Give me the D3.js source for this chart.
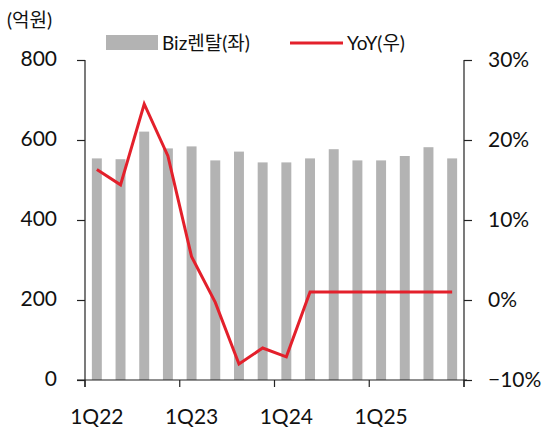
<!DOCTYPE html>
<html>
<head>
<meta charset="utf-8">
<script src="https://cdn.jsdelivr.net/npm/d3@7"></script>
<style>
  body { margin: 0; background: #fff; }
  svg text { font-family: Lato, "Noto Sans CJK KR", sans-serif; fill: #111; font-weight: 400; }
</style>
</head>
<body>
<div id="chart"></div>
<script>
// data
var quarters = ["1Q22","2Q22","3Q22","4Q22","1Q23","2Q23","3Q23","4Q23",
                "1Q24","2Q24","3Q24","4Q24","1Q25","2Q25","3Q25","4Q25"];
var rental = [554, 552, 621, 579, 584, 549, 571, 544, 544, 554, 577, 549, 549, 560, 582, 554];
var yoy = [16.3, 14.4, 24.5, 18.0, 5.4, -0.3, -8.0, -6.0, -7.1, 1.0, 1.0, 1.0, 1.0, 1.0, 1.0, 1.0];
var leftTicks = [0, 200, 400, 600, 800];
var rightTicks = [-10, 0, 10, 20, 30];
var yearLabels = ["1Q22", "1Q23", "1Q24", "1Q25"];

var W = 548, H = 430;
var plot = { left: 85, right: 464, top: 60, bottom: 380 };

var svg = d3.select("#chart").append("svg")
    .attr("width", W)
    .attr("height", H);

var x = d3.scaleBand()
    .domain(quarters)
    .range([plot.left, plot.right])
    .paddingInner(0.58)
    .paddingOuter(0.29);

// quarter index scale for the year tick marks
var xi = d3.scaleLinear().domain([0, quarters.length]).range([plot.left, plot.right]);

var yL = d3.scaleLinear().domain([0, 800]).range([plot.bottom, plot.top]);
var yR = d3.scaleLinear().domain([-10, 30]).range([plot.bottom, plot.top]);

// bars
svg.append("g").selectAll("rect")
    .data(rental)
    .enter()
    .append("rect")
    .attr("x", function (d, i) { return x(quarters[i]); })
    .attr("y", function (d) { return yL(d); })
    .attr("width", x.bandwidth())
    .attr("height", function (d) { return yL(0) - yL(d); })
    .attr("fill", "#b3b3b3");

// axes lines
var axisColor = "#222";
svg.append("line")
    .attr("x1", plot.left - 8).attr("x2", plot.right + 3)
    .attr("y1", plot.bottom).attr("y2", plot.bottom)
    .attr("stroke", axisColor).attr("stroke-width", 1.2);
svg.append("line")
    .attr("x1", plot.left).attr("x2", plot.left)
    .attr("y1", plot.top).attr("y2", plot.bottom + 7)
    .attr("stroke", axisColor).attr("stroke-width", 1.2);
svg.append("line")
    .attr("x1", plot.right).attr("x2", plot.right)
    .attr("y1", plot.top).attr("y2", plot.bottom + 7)
    .attr("stroke", axisColor).attr("stroke-width", 1.2);

// left axis
var gL = svg.append("g")
    .attr("transform", "translate(" + plot.left + ",0)")
    .call(d3.axisLeft(yL).tickValues(leftTicks).tickSize(8).tickSizeOuter(0).tickPadding(20));
gL.select(".domain").remove();
gL.selectAll(".tick line").attr("stroke", axisColor).attr("stroke-width", 1.2);
gL.selectAll(".tick text").style("font-size", "21px").attr("fill", "#111").attr("dy", "0.27em");

// right axis
var gR = svg.append("g")
    .attr("transform", "translate(" + plot.right + ",0)")
    .call(d3.axisRight(yR).tickValues(rightTicks).tickSize(8).tickSizeOuter(0).tickPadding(16)
        .tickFormat(function (d) { return (d < 0 ? "\u2212" + Math.abs(d) : d) + "%"; }));
gR.select(".domain").remove();
gR.selectAll(".tick line").attr("stroke", axisColor).attr("stroke-width", 1.2);
gR.selectAll(".tick text").style("font-size", "21px").attr("fill", "#111");

// year tick marks on x axis
svg.append("g").selectAll("line")
    .data([0, 4, 8, 12, 16])
    .enter()
    .append("line")
    .attr("x1", function (d) { return xi(d); })
    .attr("x2", function (d) { return xi(d); })
    .attr("y1", plot.bottom)
    .attr("y2", plot.bottom + 7)
    .attr("stroke", axisColor).attr("stroke-width", 1.2);

svg.append("g").selectAll("text")
    .data(yearLabels)
    .enter()
    .append("text")
    .attr("x", function (d) { return x(d) + x.bandwidth() / 2; })
    .attr("y", 415)
    .attr("text-anchor", "middle")
    .attr("dominant-baseline", "central")
    .style("font-size", "21px")
    .text(function (d) { return d; });

// yoy line
var line = d3.line()
    .x(function (d, i) { return x(quarters[i]) + x.bandwidth() / 2; })
    .y(function (d) { return yR(d); });

svg.append("path")
    .datum(yoy)
    .attr("d", line)
    .attr("fill", "none")
    .attr("stroke", "#e3202b")
    .attr("stroke-width", 3)
    .attr("stroke-linejoin", "miter");

// unit label
svg.append("text")
    .attr("x", 7).attr("y", 19)
    .attr("dominant-baseline", "central")
    .style("font-size", "19px")
    .text("(억원)");

// legend
var legend = svg.append("g");
legend.append("rect")
    .attr("x", 106).attr("y", 35)
    .attr("width", 52).attr("height", 15)
    .attr("fill", "#b3b3b3");
legend.append("text")
    .attr("x", 162).attr("y", 42)
    .attr("dominant-baseline", "central")
    .style("font-size", "19px")
    .text("Biz렌탈(좌)");
legend.append("line")
    .attr("x1", 290).attr("x2", 343)
    .attr("y1", 43).attr("y2", 43)
    .attr("stroke", "#e3202b").attr("stroke-width", 3);
legend.append("text")
    .attr("x", 347).attr("y", 42)
    .attr("dominant-baseline", "central")
    .style("font-size", "19px")
    .text("YoY(우)");
</script>
</body>
</html>
